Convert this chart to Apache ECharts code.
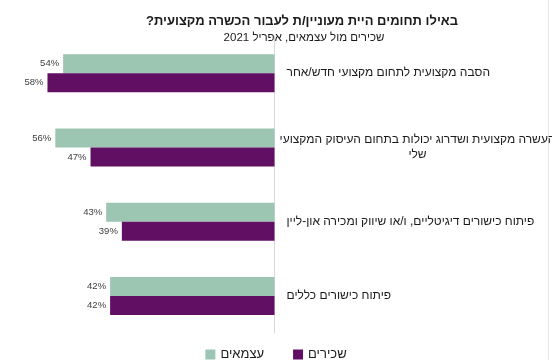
<!DOCTYPE html>
<html>
<head>
<meta charset="utf-8">
<style>html,body{margin:0;padding:0;background:#fff;}#c{width:552px;height:360px;}</style>
<script src="https://cdn.jsdelivr.net/npm/echarts@6/dist/echarts.min.js"></script>
</head>
<body>
<div id="c"></div>
<script>
const titleText = 'באילו תחומים היית מעוניין/ת לעבור הכשרה מקצועית?\u200F';
const subtitleText = 'שכירים מול עצמאים, אפריל 2021\u200F';
const categories = [
  'הסבה מקצועית לתחום מקצועי חדש/אחר',
  'העשרה מקצועית ושדרוג יכולות בתחום העיסוק המקצועי\nשלי',
  'פיתוח כישורים דיגיטליים, ו/או שיווק ומכירה און-ליין',
  'פיתוח כישורים כללים'
];
const seriesNames = ['עצמאים', 'שכירים'];
const selfEmployed = [54, 56, 43, 42];
const employees = [58, 47, 39, 42];

const font = '"Liberation Sans", Arial, sans-serif';
const chart = echarts.init(document.getElementById('c'));
chart.setOption({
  animation: false,
  textStyle: { fontFamily: font },
  title: [
    { text: titleText, left: 297, top: 10, textAlign: 'center',
      textStyle: { fontSize: 13, fontWeight: 'bold', color: '#1a1a1a', fontFamily: font } },
    { text: subtitleText, left: 299, top: 27, textAlign: 'center',
      textStyle: { fontSize: 11.5, fontWeight: 'normal', color: '#1a1a1a', fontFamily: font } }
  ],
  legend: {
    data: seriesNames,
    left: 'center',
    top: 343,
    itemWidth: 10, itemHeight: 10, itemGap: 29,
    icon: 'rect',
    textStyle: { fontSize: 13, color: '#1a1a1a', fontFamily: font }
  },
  grid: { left: 0.5, width: 274, top: 36, height: 297, containLabel: false, outerBoundsMode: 'none' },
  xAxis: { type: 'value', inverse: true, min: 0, max: 70, show: false },
  yAxis: {
    type: 'category', data: categories, inverse: true, position: 'right',
    axisLine: { show: true, lineStyle: { color: '#d9d9d9', width: 1 } },
    axisTick: { show: false },
    axisLabel: {
      align: 'left', margin: 12, fontSize: 12, color: '#1a1a1a', fontFamily: font,
      formatter: function (v) {
        if (v.indexOf('\n') >= 0) {
          return v.split('\n').map(function (s) { return '{c|' + s + '}'; }).join('\n');
        }
        return v;
      },
      rich: { c: { width: 262, align: 'center', fontSize: 12, lineHeight: 15, color: '#1a1a1a', fontFamily: font } }
    }
  },
  series: [
    { name: seriesNames[0], type: 'bar', data: selfEmployed, barWidth: 19, barGap: '0%',
      itemStyle: { color: '#9CC5B2' },
      label: { show: true, position: 'left', distance: 4, formatter: '{c}%', fontSize: 9.5, color: '#404040', fontFamily: font } },
    { name: seriesNames[1], type: 'bar', data: employees, barWidth: 19, barGap: '0%',
      itemStyle: { color: '#610F62' },
      label: { show: true, position: 'left', distance: 4, formatter: '{c}%', fontSize: 9.5, color: '#404040', fontFamily: font } }
  ],
  graphic: [
    { type: 'line', shape: { x1: 548.5, y1: 0, x2: 548.5, y2: 360 }, style: { stroke: '#e6e6e6', lineWidth: 1 } }
  ]
});
</script>
</body>
</html>
